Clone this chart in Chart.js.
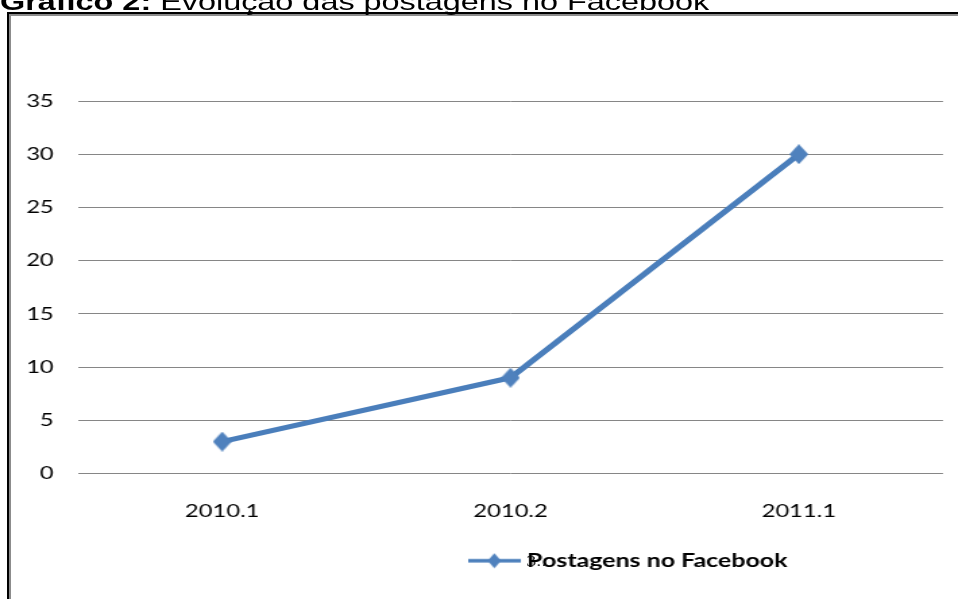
<!DOCTYPE html>
<html>
<head>
<meta charset="utf-8">
<script src="https://cdn.jsdelivr.net/npm/chart.js@4"></script>
<style>
html,body{margin:0;padding:0;width:958px;height:599px;overflow:hidden;background:#fff;}
#frame{position:absolute;left:7px;top:12px;width:2000px;height:2000px;border-left:2px solid #000;border-top:2px solid #000;}
#frame div{width:100%;height:100%;border-left:2px solid #8c8c8c;border-top:2px solid #8c8c8c;}
#stretch{position:absolute;left:0;top:0;width:935px;height:599px;transform:scaleX(1.3493);transform-origin:0 0;}
#title{position:absolute;left:0;top:-10px;font:24px "Liberation Sans",Arial,sans-serif;line-height:24px;white-space:nowrap;color:#000;}
#ghost{position:absolute;left:390px;top:553px;font:15px "Liberation Serif",serif;color:#333;}
canvas{position:absolute;left:0;top:0;}
</style>
</head>
<body>
<div id="frame"><div></div></div>
<div id="stretch">
  <div id="title"><b>Gráfico 2:</b> Evolução das postagens no Facebook</div>
  <div id="ghost">3..</div>
  <canvas id="c" width="935" height="599"></canvas>
</div>
<script>
// ---- data ----
const categories = ['2010.1', '2010.2', '2011.1'];
const postagens = [3, 9, 30];
const seriesName = 'Postagens no Facebook';
const yMin = 0, yMax = 35, yStep = 5;

// ---- marker images ----
function diamond(w, h, color) {
  const c = document.createElement('canvas');
  c.width = Math.ceil(w); c.height = Math.ceil(h);
  const g = c.getContext('2d');
  g.fillStyle = color;
  g.beginPath();
  g.moveTo(c.width / 2, 0); g.lineTo(c.width, c.height / 2);
  g.lineTo(c.width / 2, c.height); g.lineTo(0, c.height / 2);
  g.closePath(); g.fill();
  return c;
}
function legendSymbol() {
  const c = document.createElement('canvas');
  c.width = 39; c.height = 16;
  const g = c.getContext('2d');
  g.strokeStyle = '#4a7ebb'; g.lineWidth = 3.5;
  g.beginPath(); g.moveTo(0, 8); g.lineTo(39, 8); g.stroke();
  g.fillStyle = '#4f81bd';
  g.beginPath();
  g.moveTo(19.5, 0.5); g.lineTo(24.5, 8); g.lineTo(19.5, 15.5); g.lineTo(14.5, 8);
  g.closePath(); g.fill();
  return c;
}
const markerImg = diamond(14, 20, '#4f81bd');
const legendImg = legendSymbol();

const tickFont = { family: 'Lato', size: 17.6 };

new Chart(document.getElementById('c'), {
  type: 'line',
  data: {
    labels: categories,
    datasets: [{
      label: seriesName,
      data: postagens,
      borderColor: '#4a7ebb',
      backgroundColor: '#4f81bd',
      borderWidth: 5,
      tension: 0,
      pointStyle: markerImg,
      pointRadius: 10,
      clip: false,
      yAxisID: 'y'
    }]
  },
  options: {
    responsive: false,
    animation: false,
    devicePixelRatio: 1,
    layout: { padding: { top: 101, left: 0, right: 0, bottom: 19 } },
    plugins: {
      tooltip: { enabled: false },
      legend: {
        position: 'bottom',
        labels: {
          usePointStyle: true,
          pointStyle: legendImg,
          pointStyleWidth: 30,
          color: '#000',
          font: { family: 'Lato', size: 18.5, weight: 'bold' },
          padding: 10
        }
      }
    },
    scales: {
      x: {
        offset: true,
        grid: { display: false, drawTicks: false },
        border: { display: false },
        ticks: { color: '#000', font: tickFont, padding: 27 },
        afterFit: s => { s.height = 68; }
      },
      y: {
        position: 'left',
        min: yMin, max: yMax,
        grid: { color: '#868686', lineWidth: 1, drawTicks: false },
        border: { display: false },
        ticks: { stepSize: yStep, color: '#000', font: tickFont, padding: 18 },
        afterFit: s => { s.width = 57.8; }
      },
      y2: {
        type: 'linear',
        position: 'right',
        display: true,
        grid: { display: false, drawTicks: false },
        border: { display: false },
        ticks: { display: false },
        afterFit: s => { s.width = 236.1; }
      }
    }
  }
});
</script>
</body>
</html>
